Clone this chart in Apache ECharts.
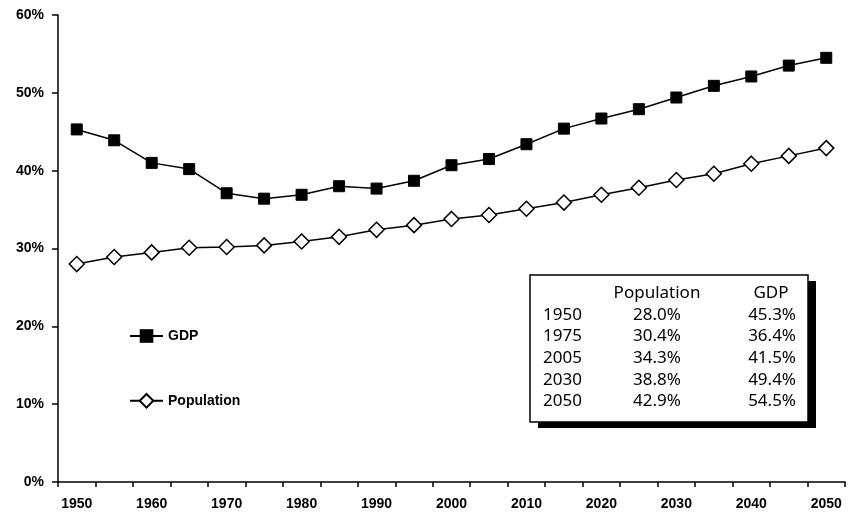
<!DOCTYPE html>
<html>
<head>
<meta charset="utf-8">
<script src="https://cdn.jsdelivr.net/npm/echarts@6/dist/echarts.min.js"></script>
<style>
  html, body { margin: 0; padding: 0; background: #fff; }
  #chart { width: 849px; height: 520px; }
</style>
</head>
<body>
<div id="chart"></div>
<script>
// data, one point every 5 years
const years = ['1950', '1955', '1960', '1965', '1970', '1975', '1980', '1985', '1990', '1995', '2000',
  '2005', '2010', '2015', '2020', '2025', '2030', '2035', '2040', '2045', '2050'];
const gdp = [45.3, 43.9, 41.0, 40.2, 37.1, 36.4, 36.9, 38.0, 37.7, 38.7, 40.7,
  41.5, 43.4, 45.4, 46.7, 47.9, 49.4, 50.9, 52.1, 53.5, 54.5];
const population = [28.0, 28.9, 29.5, 30.1, 30.2, 30.4, 30.9, 31.5, 32.4, 33.0, 33.8,
  34.3, 35.1, 35.9, 36.9, 37.8, 38.8, 39.6, 40.9, 41.9, 42.9];
const tableYears = ['1950', '1975', '2005', '2030', '2050'];

const chart = echarts.init(document.getElementById('chart'));

const axisFont = { fontFamily: 'Liberation Sans', fontWeight: 'bold', fontSize: 14, color: '#000' };
const tableFont = { fontFamily: 'Noto Sans', fontSize: 17, fill: '#000' };

// inset table, built from the series arrays
const boxX = 530, boxY = 275, boxW = 278, boxH = 147;
const rowY0 = 315, rowStep = 21.6;
const tableItems = [
  { type: 'rect', shape: { x: boxX + 8, y: boxY + 6, width: boxW, height: boxH }, style: { fill: '#000' } },
  { type: 'rect', shape: { x: boxX, y: boxY, width: boxW, height: boxH }, style: { fill: '#fff', stroke: '#000', lineWidth: 1.5 } },
  { type: 'text', x: 657, y: 293, style: Object.assign({ text: 'Population', align: 'center', verticalAlign: 'middle' }, tableFont) },
  { type: 'text', x: 771, y: 293, style: Object.assign({ text: 'GDP', align: 'center', verticalAlign: 'middle' }, tableFont) }
];
tableYears.forEach(function (yr, r) {
  const i = years.indexOf(yr);
  const y = rowY0 + r * rowStep;
  tableItems.push(
    { type: 'text', x: 543, y: y, style: Object.assign({ text: yr, align: 'left', verticalAlign: 'middle' }, tableFont) },
    { type: 'text', x: 657, y: y, style: Object.assign({ text: population[i].toFixed(1) + '%', align: 'center', verticalAlign: 'middle' }, tableFont) },
    { type: 'text', x: 796, y: y, style: Object.assign({ text: gdp[i].toFixed(1) + '%', align: 'right', verticalAlign: 'middle' }, tableFont) }
  );
});

const option = {
  animation: false,
  backgroundColor: '#fff',
  grid: { left: 58, right: 4, top: 15, bottom: 38, containLabel: false },
  legend: {
    orient: 'vertical',
    left: 124,
    top: 324,
    itemGap: 50,
    itemWidth: 33,
    itemHeight: 17,
    textStyle: { fontFamily: 'Liberation Sans', fontWeight: 'bold', fontSize: 14, color: '#000' },
    data: ['GDP', 'Population']
  },
  xAxis: {
    type: 'category',
    data: years,
    boundaryGap: true,
    axisLine: { lineStyle: { color: '#000', width: 1.5 } },
    axisTick: { show: true, interval: 0, length: 5, lineStyle: { color: '#000', width: 1.5 } },
    axisLabel: Object.assign({ interval: 1, margin: 15 }, axisFont),
    splitLine: { show: false }
  },
  yAxis: {
    type: 'value',
    min: 0,
    max: 60,
    interval: 10,
    axisLine: { show: true, lineStyle: { color: '#000', width: 1.5 } },
    axisTick: { show: true, length: 6, lineStyle: { color: '#000', width: 1.5 } },
    axisLabel: Object.assign({ formatter: '{value}%', margin: 14 }, axisFont),
    splitLine: { show: false }
  },
  series: [
    {
      name: 'GDP',
      type: 'line',
      data: gdp,
      symbol: 'rect',
      symbolSize: 11,
      showAllSymbol: true,
      lineStyle: { color: '#000', width: 1.5 },
      itemStyle: { color: '#000', borderColor: '#000' }
    },
    {
      name: 'Population',
      type: 'line',
      data: population,
      symbol: 'diamond',
      symbolSize: 15,
      showAllSymbol: true,
      lineStyle: { color: '#000', width: 1.5 },
      itemStyle: { color: '#fff', borderColor: '#000', borderWidth: 1.5 }
    }
  ],
  graphic: tableItems
};

chart.setOption(option);
</script>
</body>
</html>
